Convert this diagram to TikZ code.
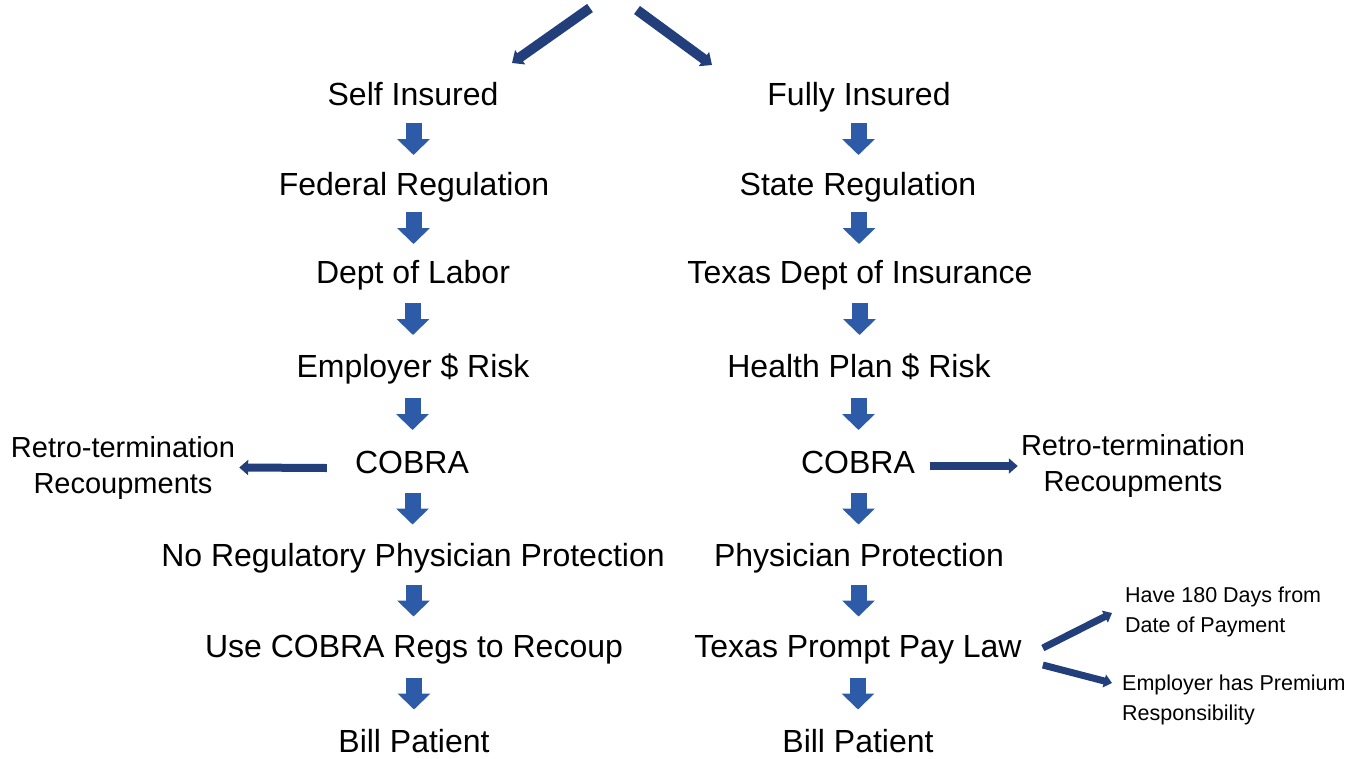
\documentclass[tikz,border=0pt]{standalone}
\usepackage{fontspec}
\setmainfont{Liberation Sans}
\usetikzlibrary{arrows.meta,calc}
\definecolor{blockblue}{HTML}{2D5BA8}
\definecolor{navy}{HTML}{233F7B}
\begin{document}
\begin{tikzpicture}[x=1pt,y=-1pt,
  stage/.style={inner sep=0pt, text height=22.9pt, text depth=0pt,
                font=\fontsize{32}{38}\selectfont},
  sidenote/.style={inner sep=0pt, align=center, font=\fontsize{29}{36}\selectfont},
  smallnote/.style={inner sep=0pt, align=left, anchor=west,
                    font=\fontsize{21.5}{30}\selectfont},
  blockarrow/.style={draw=blockblue, line width=16pt,
                     -{Triangle[width=32pt,length=16pt]}},
  toparrow/.style={draw=navy, line width=10pt,
                   -{Triangle[width=17pt,length=10pt]}},
  sidearrow/.style={draw=navy, line width=8pt,
                    -{Triangle[width=15pt,length=9pt]}},
  smallarrow/.style={draw=navy, line width=7pt,
                     -{Triangle[width=13pt,length=8pt]}}]
\useasboundingbox (0,0) rectangle (1354,758);

% left column: self insured
\node[stage] (self)  at (413,94)  {Self Insured};
\node[stage] (fed)   at (414,184) {Federal Regulation};
\node[stage] (dol)   at (413,272) {Dept of Labor};
\node[stage] (emp)   at (413,366) {Employer \$ Risk};
\node[stage] (cobl)  at (412,462) {COBRA};
\node[stage] (noreg) at (413,555) {No Regulatory Physician Protection};
\node[stage] (usec)  at (414,646) {Use COBRA Regs to Recoup};
\node[stage] (billl) at (414,741) {Bill Patient};

% right column: fully insured
\node[stage] (fully) at (859,94)  {Fully Insured};
\node[stage] (state) at (858,184) {State Regulation};
\node[stage] (tdi)   at (860,272) {Texas Dept of Insurance};
\node[stage] (hp)    at (859,366) {Health Plan \$ Risk};
\node[stage] (cobr)  at (858,462) {COBRA};
\node[stage] (phys)  at (859,555) {Physician Protection};
\node[stage] (tpp)   at (858,646) {Texas Prompt Pay Law};
\node[stage] (billr) at (858,741) {Bill Patient};

% side notes
\node[sidenote] (retroL) at (123,467.5) {Retro-termination\\Recoupments};
\node[sidenote] (retroR) at (1133,466)  {Retro-termination\\Recoupments};
\node[smallnote] (days) at (1125,612) {Have 180 Days from\\Date of Payment};
\node[smallnote] (prem) at (1122,700) {Employer has Premium\\Responsibility};

% block arrows down each column
\foreach \a/\b in {self/fed, fed/dol, dol/emp, emp/cobl, cobl/noreg, noreg/usec, usec/billl,
                   fully/state, state/tdi, tdi/hp, hp/cobr, cobr/phys, phys/tpp, tpp/billr}
  \draw[blockarrow] ($(\a.south)!.5!(\b.north)+(0,-16)$) -- ($(\a.south)!.5!(\b.north)+(0,16)$);

% split at the top
\coordinate (srcL) at (590,8);
\coordinate (srcR) at (637,10);
\coordinate (tipL) at (512,63);
\coordinate (tipR) at (712,65);
\draw[toparrow] (srcL) -- (tipL);
\draw[toparrow] (srcR) -- (tipR);

% COBRA side branches
\draw[sidearrow] ([shift={(-28,6)}]cobl.west) -- ([xshift=4pt]retroL.east);
\draw[sidearrow] ([shift={(15,4)}]cobr.east) -- ([xshift=-3pt]retroR.west);

% prompt pay branches
\draw[smallarrow] ([shift={(21,2)}]tpp.east) -- ([shift={(-13,1)}]days.west);
\draw[smallarrow] ([shift={(21,19)}]tpp.east) -- ([shift={(-10,-17)}]prem.west);
\end{tikzpicture}
\end{document}
